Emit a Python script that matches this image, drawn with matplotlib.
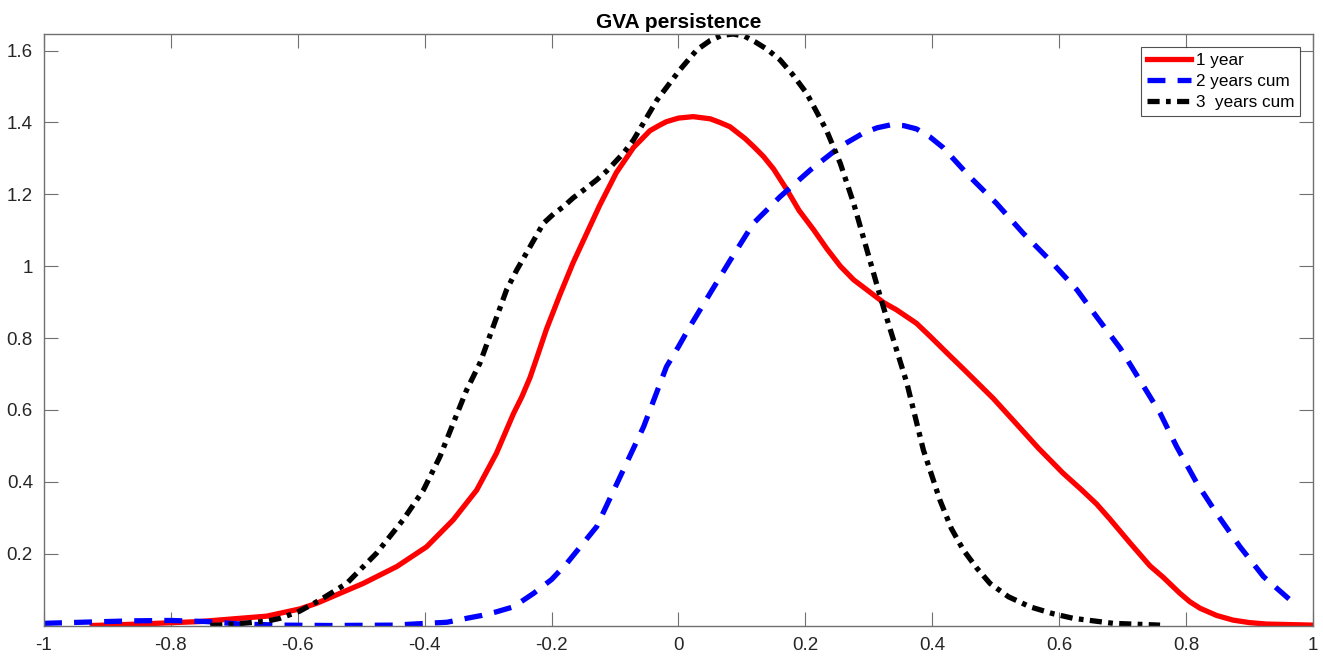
import numpy as np
import matplotlib
matplotlib.use("Agg")
import matplotlib.pyplot as plt

plt.rcParams["font.family"] = ["Liberation Sans", "DejaVu Sans"]

# values
x_1y = [-0.924, -0.85, -0.754, -0.649, -0.597, -0.570, -0.497, -0.444, -0.397, -0.355,
        -0.318, -0.287, -0.260, -0.247, -0.234, -0.221, -0.208, -0.187, -0.166, -0.145,
        -0.124, -0.098, -0.071, -0.045, -0.030, -0.019, 0.0, 0.023, 0.050, 0.065,
        0.081, 0.105, 0.120, 0.134, 0.150, 0.171, 0.190, 0.213, 0.234, 0.255,
        0.276, 0.297, 0.323, 0.344, 0.375, 0.397, 0.428, 0.449, 0.496, 0.528,
        0.567, 0.606, 0.635, 0.659, 0.680, 0.712, 0.743, 0.764, 0.790, 0.806,
        0.822, 0.848, 0.874, 0.900, 0.927, 1.0]
y_1y = [0.0, 0.004, 0.011, 0.026, 0.046, 0.062, 0.117, 0.164, 0.219, 0.294,
        0.377, 0.479, 0.590, 0.636, 0.690, 0.757, 0.825, 0.920, 1.010, 1.090,
        1.170, 1.260, 1.330, 1.377, 1.392, 1.402, 1.412, 1.416, 1.410, 1.400,
        1.388, 1.355, 1.330, 1.305, 1.270, 1.212, 1.155, 1.101, 1.048, 1.000,
        0.962, 0.934, 0.899, 0.878, 0.841, 0.804, 0.750, 0.714, 0.632, 0.570,
        0.494, 0.424, 0.378, 0.338, 0.296, 0.229, 0.166, 0.134, 0.090, 0.066,
        0.048, 0.028, 0.015, 0.008, 0.004, 0.001]

x_2y = [-1.0, -0.922, -0.859, -0.801, -0.744, -0.691, -0.623, -0.55, -0.449, -0.397,
        -0.365, -0.334, -0.310, -0.287, -0.260, -0.228, -0.200, -0.176, -0.129, -0.092,
        -0.055, -0.019, 0.0, 0.018, 0.05, 0.081, 0.118, 0.16, 0.208, 0.255,
        0.291, 0.313, 0.334, 0.355, 0.375, 0.396, 0.417, 0.459, 0.501, 0.543,
        0.585, 0.628, 0.659, 0.696, 0.727, 0.759, 0.785, 0.817, 0.848, 0.885,
        0.922, 0.964, 0.977]
y_2y = [0.006, 0.010, 0.013, 0.014, 0.011, 0.004, 0.001, 0.0, 0.001, 0.006,
        0.009, 0.020, 0.028, 0.038, 0.052, 0.090, 0.128, 0.173, 0.275, 0.414,
        0.553, 0.720, 0.776, 0.832, 0.925, 1.015, 1.119, 1.193, 1.268, 1.333,
        1.370, 1.385, 1.393, 1.391, 1.382, 1.360, 1.330, 1.249, 1.175, 1.092,
        1.017, 0.934, 0.859, 0.772, 0.683, 0.591, 0.498, 0.396, 0.312, 0.219,
        0.136, 0.071, 0.054]

x_3y = [-0.738, -0.70, -0.649, -0.628, -0.597, -0.565, -0.523, -0.476, -0.434, -0.402,
        -0.376, -0.355, -0.334, -0.313, -0.292, -0.271, -0.255, -0.234, -0.213, -0.197,
        -0.181, -0.166, -0.147, -0.129, -0.113, -0.087, -0.071, -0.034, 0.002, 0.029,
        0.050, 0.068, 0.086, 0.104, 0.120, 0.140, 0.160, 0.180, 0.202, 0.233,
        0.255, 0.276, 0.297, 0.318, 0.330, 0.360, 0.386, 0.412, 0.430, 0.449,
        0.470, 0.491, 0.520, 0.554, 0.590, 0.622, 0.685, 0.759]
y_3y = [0.0, 0.004, 0.012, 0.020, 0.040, 0.071, 0.117, 0.201, 0.294, 0.377,
        0.470, 0.563, 0.655, 0.730, 0.832, 0.934, 0.989, 1.054, 1.119, 1.145,
        1.166, 1.190, 1.215, 1.240, 1.265, 1.314, 1.351, 1.462, 1.546, 1.602,
        1.628, 1.642, 1.646, 1.640, 1.625, 1.603, 1.574, 1.533, 1.481, 1.379,
        1.286, 1.175, 1.045, 0.915, 0.845, 0.674, 0.488, 0.349, 0.270, 0.210,
        0.160, 0.117, 0.080, 0.052, 0.033, 0.020, 0.006, 0.001]

labels = ["1 year", "2 years cum", "3  years cum"]
x_ticks = [-1, -0.8, -0.6, -0.4, -0.2, 0, 0.2, 0.4, 0.6, 0.8, 1]
y_ticks = [0.2, 0.4, 0.6, 0.8, 1.0, 1.2, 1.4, 1.6]

fig = plt.figure(figsize=(13.23, 6.56), dpi=100)
ax = fig.add_axes([44 / 1323, 30.5 / 656, 1269 / 1323, 591.5 / 656])

lw = 3.8
ax.plot(x_1y, y_1y, color="red", lw=lw, solid_joinstyle="round", label=labels[0])
ax.plot(x_2y, y_2y, color="blue", lw=lw, dashes=(3.4, 2.3), label=labels[1])
ax.plot(x_3y, y_3y, color="black", lw=lw, dashes=(2.3, 1.2, 0.9, 1.2), label=labels[2])

ax.set_xlim(-1, 1)
ax.set_ylim(0, max(y_3y))
ax.set_xticks(x_ticks)
ax.set_xticklabels(["-1", "-0.8", "-0.6", "-0.4", "-0.2", "0", "0.2", "0.4", "0.6", "0.8", "1"])
ax.set_yticks(y_ticks)
ax.set_yticklabels(["0.2", "0.4", "0.6", "0.8", "1", "1.2", "1.4", "1.6"])

for s in ax.spines.values():
    s.set_color("#707070")
    s.set_linewidth(1.0)
ax.tick_params(direction="in", length=10, width=0.8, color="#707070",
               labelsize=13.5, labelcolor="#262626", top=True, right=True, pad=8)

ax.set_title("GVA persistence", fontsize=15, fontweight="bold", color="black", pad=4)

leg = ax.legend(loc="upper right", fontsize=12.3, frameon=True, fancybox=False,
                handlelength=2.6, handletextpad=0.25, labelspacing=0.35,
                borderaxespad=0.75, borderpad=0.35)
leg.get_frame().set_edgecolor("#262626")
leg.get_frame().set_linewidth(0.8)

fig.savefig("out.png", dpi=100)
